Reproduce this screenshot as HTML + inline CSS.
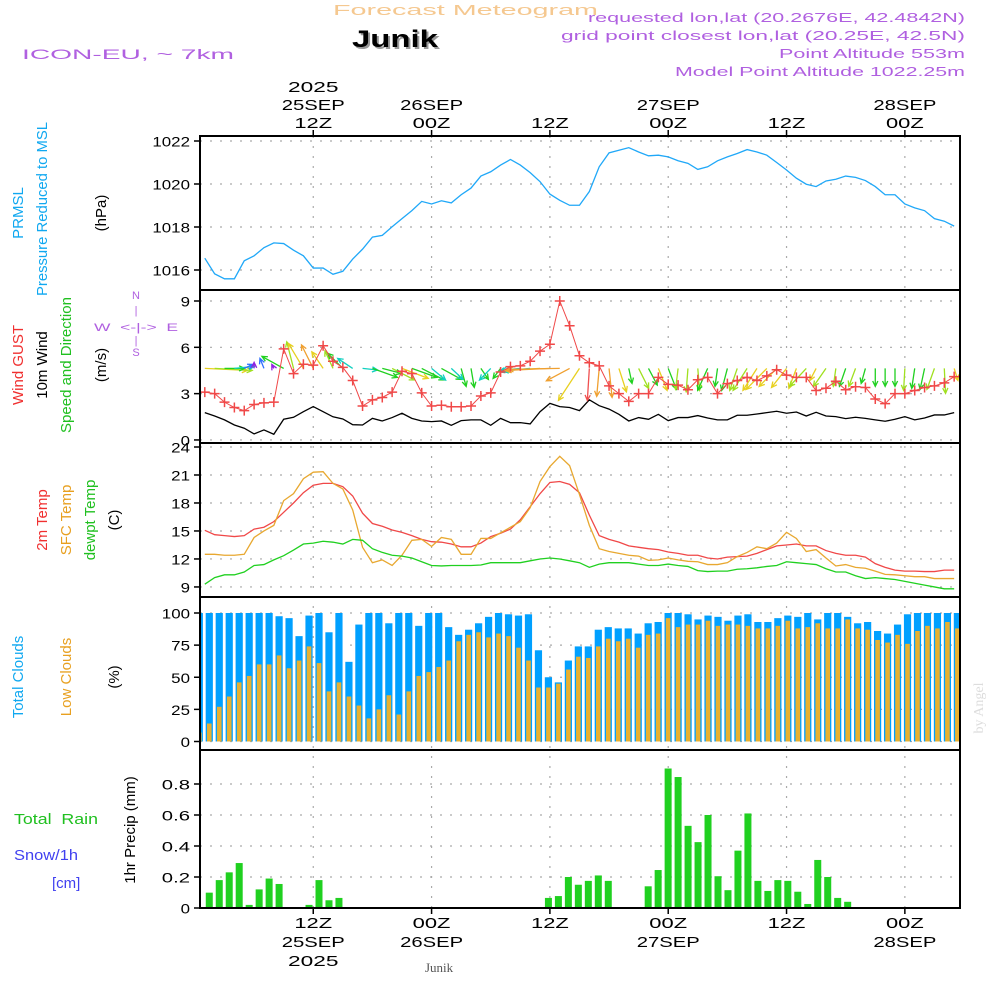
<!DOCTYPE html>
<html><head><meta charset="utf-8"><style>
html,body{margin:0;padding:0;background:#fff;}
svg{display:block;font-family:"Liberation Sans",sans-serif;}
</style></head><body>
<svg id="chart" width="1000" height="1000" viewBox="0 0 1000 1000" xmlns="http://www.w3.org/2000/svg">
<g>
<text x="333" y="15" fill="#f5c890" font-size="15" textLength="265" lengthAdjust="spacingAndGlyphs">Forecast Meteogram</text>
<text x="354" y="49" fill="#999" font-size="24" font-weight="bold" textLength="86" lengthAdjust="spacingAndGlyphs">Junik</text>
<text x="352" y="47" fill="#000" font-size="24" font-weight="bold" textLength="86" lengthAdjust="spacingAndGlyphs">Junik</text>
<text x="22" y="59" fill="#b060e0" font-size="14" textLength="212" lengthAdjust="spacingAndGlyphs">ICON-EU, ~ 7km</text>
<text x="965" y="22" fill="#b060e0" font-size="13" text-anchor="end" textLength="377" lengthAdjust="spacingAndGlyphs">requested lon,lat (20.2676E, 42.4842N)</text>
<text x="965" y="40" fill="#b060e0" font-size="13" text-anchor="end" textLength="404" lengthAdjust="spacingAndGlyphs">grid point closest lon,lat (20.25E, 42.5N)</text>
<text x="965" y="58" fill="#b060e0" font-size="13" text-anchor="end" textLength="186" lengthAdjust="spacingAndGlyphs">Point Altitude 553m</text>
<text x="965" y="76" fill="#b060e0" font-size="13" text-anchor="end" textLength="290" lengthAdjust="spacingAndGlyphs">Model Point Altitude 1022.25m</text>
</g>
<g font-size="15">
<text transform="translate(23,213) rotate(-90)" text-anchor="middle" fill="#10a8f0">PRMSL</text>
<text transform="translate(47,209) rotate(-90)" text-anchor="middle" fill="#10a8f0" textLength="174" lengthAdjust="spacingAndGlyphs">Pressure Reduced to MSL</text>
<text transform="translate(106,213) rotate(-90)" text-anchor="middle" fill="#000">(hPa)</text>
<text transform="translate(23,365) rotate(-90)" text-anchor="middle" fill="#f03030">Wind GUST</text>
<text transform="translate(47,365) rotate(-90)" text-anchor="middle" fill="#000">10m Wind</text>
<text transform="translate(71,365) rotate(-90)" text-anchor="middle" fill="#20c020">Speed and Direction</text>
<text transform="translate(106,365) rotate(-90)" text-anchor="middle" fill="#000">(m/s)</text>
<text x="136" y="299" fill="#b060e0" font-size="11" text-anchor="middle">N</text>
<text x="136" y="314" fill="#b060e0" font-size="11" text-anchor="middle">|</text>
<text x="136" y="331" fill="#b060e0" font-size="11" text-anchor="middle" textLength="84" lengthAdjust="spacingAndGlyphs" xml:space="preserve">W  &lt;-|-&gt;  E</text>
<text x="136" y="344" fill="#b060e0" font-size="11" text-anchor="middle">|</text>
<text x="136" y="356" fill="#b060e0" font-size="11" text-anchor="middle">S</text>
<text transform="translate(47,520) rotate(-90)" text-anchor="middle" fill="#f03030">2m Temp</text>
<text transform="translate(71,520) rotate(-90)" text-anchor="middle" fill="#e8a020">SFC Temp</text>
<text transform="translate(95,520) rotate(-90)" text-anchor="middle" fill="#20c020">dewpt Temp</text>
<text transform="translate(119,520) rotate(-90)" text-anchor="middle" fill="#000">(C)</text>
<text transform="translate(23,677) rotate(-90)" text-anchor="middle" fill="#10a8f0">Total Clouds</text>
<text transform="translate(71,677) rotate(-90)" text-anchor="middle" fill="#e8a020">Low Clouds</text>
<text transform="translate(119,677) rotate(-90)" text-anchor="middle" fill="#000">(%)</text>
<text transform="translate(135,830) rotate(-90)" text-anchor="middle" fill="#000">1hr Precip (mm)</text>
<text x="14" y="824" fill="#20c020" textLength="84" lengthAdjust="spacingAndGlyphs" xml:space="preserve">Total  Rain</text>
<text x="14" y="860" fill="#4040f0" textLength="64" lengthAdjust="spacingAndGlyphs">Snow/1h</text>
<text x="52" y="888" fill="#4040f0">[cm]</text>
<text x="425" y="972" fill="#555" font-size="13" font-family="Liberation Serif,serif">Junik</text>
<text transform="translate(983,708) rotate(-90)" text-anchor="middle" fill="#ddd" font-size="14" font-family="Liberation Serif,serif">by Angel</text>
</g>
<g id="plot"></g>
</svg>
<script>
const pressure=[1016.55,1015.82,1015.59,1015.59,1016.43,1016.66,1017.04,1017.26,1017.23,1016.92,1016.66,1016.09,1016.09,1015.8,1015.94,1016.51,1016.97,1017.53,1017.61,1018.01,1018.39,1018.76,1019.19,1019.07,1019.22,1019.12,1019.5,1019.81,1020.37,1020.57,1020.88,1021.14,1020.88,1020.53,1020.11,1019.53,1019.24,1019.01,1019.01,1019.65,1020.8,1021.45,1021.57,1021.69,1021.49,1021.31,1021.34,1021.26,1021.08,1020.96,1020.68,1020.8,1021.08,1021.26,1021.42,1021.6,1021.49,1021.34,1021.0,1020.65,1020.27,1019.99,1019.88,1020.14,1020.22,1020.37,1020.31,1020.16,1019.88,1019.5,1019.5,1019.07,1018.89,1018.76,1018.39,1018.27,1018.04];
const gust=[3.1,3.0,2.45,2.1,1.9,2.3,2.4,2.45,5.9,4.3,4.9,4.85,6.1,5.1,4.7,3.85,2.2,2.6,2.75,3.1,4.45,4.3,3.05,2.2,2.25,2.15,2.15,2.2,2.85,3.05,4.4,4.75,4.8,5.1,5.75,6.2,9.0,7.4,5.45,5.0,4.8,3.5,3.0,2.5,3.0,3.0,4.05,3.6,3.55,3.25,3.9,4.05,3.0,3.65,3.85,4.05,3.85,4.15,4.55,4.2,4.05,4.05,3.2,3.35,3.8,3.25,3.45,3.4,2.65,2.35,3.0,3.0,3.2,3.4,3.5,3.7,4.1];
const windSpeed=[1.77,1.55,1.3,0.97,0.76,0.39,0.65,0.37,1.34,1.47,1.83,2.16,1.83,1.5,1.36,0.99,0.97,1.4,1.23,1.45,1.73,1.4,1.23,1.19,1.23,0.95,1.25,1.3,1.3,0.95,1.4,1.12,1.12,1.04,1.83,2.37,2.16,2.1,1.9,2.6,2.22,2.0,1.66,1.23,1.45,1.34,1.66,1.25,1.45,1.45,1.58,1.42,1.3,1.3,1.6,1.6,1.68,1.77,1.86,1.73,1.81,1.55,1.79,1.55,1.51,1.38,1.47,1.4,1.3,1.21,1.34,1.51,1.3,1.42,1.62,1.62,1.77];
const windU=[1.7,1.5,0.8,0.8,0.35,0,-0.16,-0.08,-0.87,-0.27,-0.6,-0.47,-0.45,-0.32,-0.6,-0.6,0.6,1.0,0.77,0.9,1.05,1.0,0.9,0.56,0.8,0.47,0.2,0.13,0.3,-0.45,-0.3,-0.44,-0.77,-1.08,-1.4,-1.75,-2.07,-0.93,-0.84,-0.08,-0.1,0.12,0.3,0.13,0.4,0.35,0.35,0.33,-0.1,-0.07,0.07,-0.4,-0.1,-0.23,-0.3,-0.56,-0.56,-0.83,-0.7,-0.6,-0.3,-0.67,-0.25,-0.5,-0.1,-0.25,-0.27,-0.17,0,0,0,-0.05,-0.12,-0.18,-0.3,0.05,0.15];
const windV=[-0.1,-0.1,0,0.1,0.2,0.3,0.5,0.2,0.6,1.33,1.25,1.17,0.83,0.88,0.75,0.5,-0.08,-0.45,-0.25,-0.58,-0.5,-0.45,-0.58,-0.58,-0.55,-0.55,-0.9,-0.95,-0.55,-0.58,-0.5,-0.17,-0.1,-0.13,-0.1,-0.1,-0.05,-0.62,-1.6,-1.6,-1.4,-1.45,-1.17,-0.75,-1.0,-0.83,-1.1,-1.05,-1.05,-1.17,-1.1,-1.1,-0.9,-1.1,-1.1,-1.1,-1.1,-1.05,-0.9,-0.95,-1.0,-0.9,-0.6,-0.9,-0.9,-0.9,-0.9,-0.75,-0.9,-0.9,-0.9,-1.1,-1.0,-1.05,-1.05,-1.25,-0.6];
const temp2m=[15.07,14.6,14.5,14.4,14.5,15.2,15.4,16.0,17.0,18.0,19.1,19.9,20.1,20.1,19.75,18.75,16.9,15.8,15.5,15.1,14.85,14.5,14.1,13.85,13.8,13.6,13.3,13.3,13.7,14.4,14.75,15.2,16.2,17.6,19.0,20.2,20.3,20.0,19.1,16.7,14.5,14.1,13.8,13.4,13.25,13.1,13.0,12.75,12.6,12.4,12.4,12.1,12.0,12.2,12.25,12.3,12.6,13.0,13.4,13.5,13.6,13.4,13.4,12.9,12.6,12.4,12.4,12.2,11.5,11.1,10.8,10.7,10.7,10.65,10.65,10.8,10.8];
const tempSfc=[12.5,12.5,12.4,12.4,12.5,14.3,15.0,15.6,18.25,19.0,20.6,21.3,21.35,20.1,19.5,17.25,13.25,11.6,11.9,11.3,12.4,14.0,14.1,13.35,14.3,14.1,12.5,12.5,14.2,14.2,14.8,15.4,16.0,17.5,20.3,21.9,23.0,22.0,18.9,15.6,13.1,12.8,12.6,12.4,12.3,11.85,11.9,12.1,11.9,11.75,11.7,11.4,11.4,11.6,12.25,12.7,13.3,13.1,13.7,14.85,14.2,12.8,13.0,12.1,11.25,11.4,11.1,11.0,10.7,10.35,10.3,10.2,10.1,10.1,9.9,9.9,9.9];
const dewpt=[9.3,10.0,10.3,10.3,10.6,11.3,11.4,11.9,12.35,12.95,13.6,13.7,13.9,13.8,13.6,14.1,14.0,13.1,12.7,12.4,12.3,12.1,11.7,11.3,11.25,11.3,11.3,11.3,11.35,11.6,11.6,11.6,11.6,11.8,12.0,12.1,12.0,11.8,11.6,11.1,11.45,11.6,11.6,11.6,11.45,11.3,11.3,11.45,11.3,11.2,10.75,10.65,10.7,10.7,10.9,10.95,11.05,11.2,11.3,11.7,11.6,11.5,11.4,10.95,10.6,10.6,10.2,9.9,10.0,9.9,9.8,9.6,9.4,9.2,9.0,8.8,8.8];
const totalClouds=[100,100,100,100,100,100,100,100,97.5,96,82,98,100,85,100,62,91,100,100,92,100,100,90,100,100,89,83,87,92,97,100,99,98,99,71,50,46,63,74,74,87,89,88,88,84,92,93,100,100,99,95,98,97,94,98,99,93,93,96,98,97,100,95,100,100,97,92,93,86,84,91,99,100,100,100,100,100];
const lowClouds=[7,14,27,35,46,51,60,60,67,57,63,74,61,39,46,35,28,18,25,36,21,39,51,54,58,63,78,83,85,81,84,82,73,63,42,42,45,56,66,65,74,80,78,80,73,83,84,96,89,91,91,94,90,91,91,90,88,88,90,94,88,89,92,88,88,95,88,87,79,77,83,76,86,90,88,93,88];
const precip=[0,0.099,0.18,0.23,0.29,0.02,0.12,0.19,0.155,0,0.003,0.02,0.18,0.05,0.065,0.006,0,0,0,0,0,0,0,0,0,0,0,0,0,0,0,0,0,0,0,0.065,0.077,0.2,0.15,0.175,0.21,0.175,0,0,0,0.14,0.245,0.9,0.845,0.53,0.425,0.6,0.205,0.115,0.37,0.61,0.175,0.11,0.18,0.175,0.105,0.026,0.31,0.2,0.065,0.04,0,0,0,0,0,0,0,0,0,0,0];
const pressureTicks=[1016,1018,1020,1022];
const windTicks=[0,3,6,9];
const tempTicks=[9,12,15,18,21,24];
const cloudTicks=[0,25,50,75,100];
const precipTicks=[0,0.2,0.4,0.6,0.8];
const precipTickLabels=["0","0.2","0.4","0.6","0.8"];
const gridHours=[11,23,35,47,59,71];
const topLabels=[["2025","25SEP","12Z"],["","26SEP","00Z"],["","","12Z"],["","27SEP","00Z"],["","","12Z"],["","28SEP","00Z"]];
const bottomLabels=[["12Z","25SEP","2025"],["00Z","26SEP",""],["12Z","",""],["00Z","27SEP",""],["12Z","",""],["00Z","28SEP",""]];

const L=200,R=960;
const xl=j=>204.8+9.86*j;
const xb=i=>199.3+9.975*i;
const yP=v=>141+(1022-v)*21.5;
const yW=v=>301+(9-v)*15.44;
const yT=v=>447+(24-v)*9.33;
const yC=v=>741.5-v*1.285;
const yR=v=>908-v*155;
const NS="http://www.w3.org/2000/svg";
const plot=document.getElementById('plot');
function mk(tag,attrs,parent){const e=document.createElementNS(NS,tag);for(const k in attrs)e.setAttribute(k,attrs[k]);(parent||plot).appendChild(e);return e;}
const panels=[[136,290,'pressure'],[290,443,'wind'],[443,597,'temperature'],[597,750,'clouds'],[750,908,'precip']];
const defs=mk('defs',{});
panels.forEach((p,k)=>{const c=mk('clipPath',{id:'clip'+k},defs);mk('rect',{x:L,y:p[0],width:R-L,height:p[1]-p[0]},c);});
function hgrid(vals,yf,name){vals.forEach(v=>{const y=yf(v);const g=mk('line',{x1:L,x2:R,y1:y,y2:y,stroke:'#aaa','stroke-width':1.2,'stroke-dasharray':'2,8'});

});}
hgrid(pressureTicks,yP,'pressure');hgrid(windTicks,yW,'wind');hgrid(tempTicks,yT,'temp');hgrid(cloudTicks,yC,'cloud');hgrid(precipTicks.slice(1),yR,'precip');
gridHours.forEach(h=>{const x=xl(h);const g=mk('line',{x1:x,x2:x,y1:136,y2:908,stroke:'#aaa','stroke-width':1.2,'stroke-dasharray':'2,8'});

});
function yticks(vals,labels,yf,name){vals.forEach((v,i)=>{const y=yf(v);mk('line',{x1:194,x2:200,y1:y,y2:y,stroke:'#000','stroke-width':1.5});
const s=labels?labels[i]:String(v);
const t=mk('text',{x:190,y:y+5.5,'text-anchor':'end','font-size':14,fill:'#000',textLength:s.length*9.4,lengthAdjust:'spacingAndGlyphs'});t.textContent=s;

});}
yticks(pressureTicks,null,yP,'pressure');yticks(windTicks,null,yW,'wind');yticks(tempTicks,null,yT,'temp');yticks(cloudTicks,null,yC,'cloud');yticks(precipTicks,precipTickLabels,yR,'precip');
gridHours.forEach((h,k)=>{const x=xl(h);
mk('line',{x1:x,x2:x,y1:130,y2:136,stroke:'#000','stroke-width':1.5});mk('line',{x1:x,x2:x,y1:908,y2:914,stroke:'#000','stroke-width':1.5});
topLabels[k].forEach((s,r)=>{if(!s)return;const t=mk('text',{x:x,y:92+r*18,'text-anchor':'middle','font-size':15,fill:'#000',textLength:s.length*12.6,lengthAdjust:'spacingAndGlyphs'});t.textContent=s;

});
bottomLabels[k].forEach((s,r)=>{if(!s)return;const t=mk('text',{x:x,y:928+r*19,'text-anchor':'middle','font-size':15,fill:'#000',textLength:s.length*12.6,lengthAdjust:'spacingAndGlyphs'});t.textContent=s;

});});
const cg=mk('g',{'clip-path':'url(#clip3)'});
totalClouds.forEach((v,i)=>{const x=xb(i);const b=mk('rect',{x:x-3.6,y:yC(v),width:7.2,height:yC(0)-yC(v),fill:'#00a0ff'},cg);

});
lowClouds.forEach((v,i)=>{const x=xb(i);const b=mk('rect',{x:x-2.3,y:yC(v),width:4.6,height:yC(0)-yC(v),fill:'#e8b030'},cg);

});
const pg=mk('g',{'clip-path':'url(#clip4)'});
precip.forEach((v,i)=>{if(v<=0)return;const x=xb(i);const b=mk('rect',{x:x-3.5,y:yR(v),width:7,height:yR(0)-yR(v),fill:'#20d020'},pg);

});
function line(arr,yf,color,name,w){const p=mk('polyline',{points:arr.map((v,j)=>xl(j)+','+yf(v)).join(' '),fill:'none',stroke:color,'stroke-width':w||1.3});

return p;}
line(pressure,yP,'#20a8f8','pressure-line');
line(temp2m,yT,'#f04848','temp-2m-line');
line(tempSfc,yT,'#e8a830','temp-sfc-line');
line(dewpt,yT,'#20d020','dewpoint-line');
line(windSpeed,yW,'#000','wind-speed-line');
function wcol(s){return s<0.5?'#9020e0':s<0.8?'#3070ff':s<1.2?'#10d0c0':s<1.45?'#20d020':s<1.65?'#a0e020':s<2.0?'#e8d020':s<2.4?'#f0a030':'#f05050';}
const wg=mk('g',{'clip-path':'url(#clip1)'});
windU.forEach((u,j)=>{const x0=xl(j),y0=368.4;const x1=x0+u*25,y1=y0-windV[j]*20;const c=wcol(windSpeed[j]);
const ang=Math.atan2(y1-y0,x1-x0);const hl=6;
const a=mk('path',{d:`M${x0},${y0}L${x1},${y1}M${x1-hl*Math.cos(ang-0.45)},${y1-hl*Math.sin(ang-0.45)}L${x1},${y1}L${x1-hl*Math.cos(ang+0.45)},${y1-hl*Math.sin(ang+0.45)}`,stroke:c,'stroke-width':1.3,fill:'none'},wg);

});
line(gust,yW,'#f04848','wind-gust-line',1);
gust.forEach((v,j)=>{const x=xl(j),y=yW(v);const m=mk('path',{d:`M${x-5},${y}H${x+5}M${x},${y-5}V${y+5}`,stroke:'#f04848','stroke-width':1.5});

});
panels.forEach(p=>{const f=mk('rect',{x:L,y:p[0],width:R-L,height:p[1]-p[0],fill:'none',stroke:'#000','stroke-width':2});

});
</script>
</body></html>
